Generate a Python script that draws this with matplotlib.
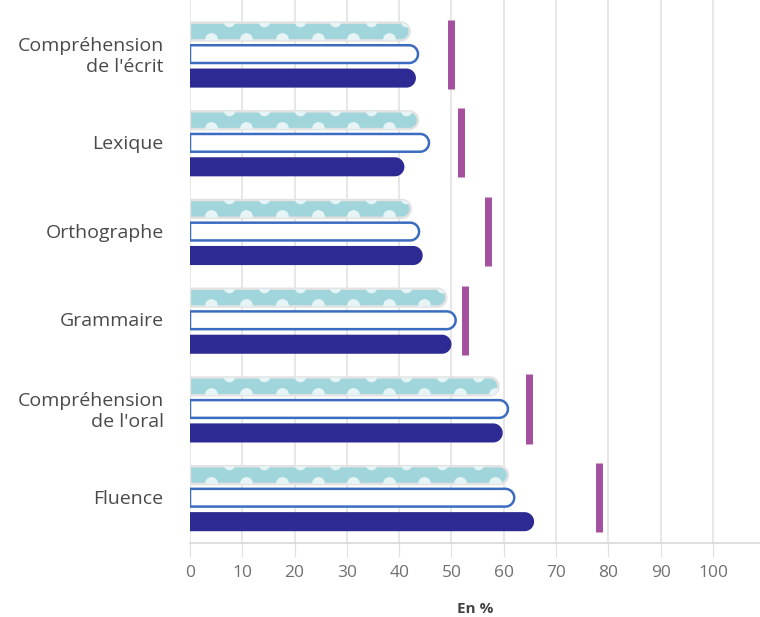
import matplotlib.pyplot as plt
import numpy as np
from matplotlib.patches import Polygon

# data (in %)
categories = ["Compréhension\nde l'écrit", "Lexique", "Orthographe", "Grammaire",
              "Compréhension\nde l'oral", "Fluence"]
serie_motif = [42.0, 43.6, 42.2, 49.0, 59.0, 60.8]    # teal, dotted
serie_vide = [43.6, 45.7, 43.8, 50.8, 60.8, 62.0]     # white, blue outline
serie_pleine = [43.2, 41.0, 44.5, 50.0, 59.8, 65.8]   # navy
reference = [50.0, 51.8, 57.0, 52.6, 64.8, 78.2]      # purple markers
xticks = [0, 10, 20, 30, 40, 50, 60, 70, 80, 90, 100]

plt.rcParams['font.family'] = ['Open Sans', 'DejaVu Sans']

fig = plt.figure(figsize=(7.6, 6.17), dpi=100)
ax = fig.add_axes([0.25, 0.12, 0.75, 0.88])
ax.set_xlim(0, 109)
ax.set_ylim(5.52, -0.6)

# pixel scale of the axes, used to draw round ends that look circular
bbox = ax.get_position()
px_x = bbox.width * 760 / 109
px_y = bbox.height * 617 / 6.12


def rounded_bar(y, v, h, **kw):
    r_x = (h * px_y / 2) / px_x
    t = np.linspace(-np.pi / 2, np.pi / 2, 40)
    arc_x = (v - r_x) + r_x * np.cos(t)
    arc_y = y + (h / 2) * np.sin(t)
    pts = [(0, y - h / 2)] + list(zip(arc_x, arc_y)) + [(0, y + h / 2)]
    p = Polygon(pts, closed=True, **kw)
    ax.add_patch(p)
    return p


y = np.arange(len(categories))
h = 0.2
step = 6.8

for i in range(len(categories)):
    # teal bar with dots
    p = rounded_bar(y[i] - 0.245, serie_motif[i], h, facecolor='#9fd5db',
                    edgecolor='#e2e2e2', linewidth=1.8, zorder=3)
    xs = np.arange(4.0, serie_motif[i], step)
    dots_b = ax.scatter(xs, np.full(len(xs), y[i] - 0.245 + h * 0.42), s=85,
                        color='#e6f4f5', linewidths=0, zorder=4)
    dots_b.set_clip_path(p)
    xs2 = np.arange(4.0 + step / 2, serie_motif[i], step)
    dots_t = ax.scatter(xs2, np.full(len(xs2), y[i] - 0.245 - h * 0.6), s=70,
                        color='#e6f4f5', linewidths=0, zorder=4)
    dots_t.set_clip_path(p)

    # white bar with blue outline
    rounded_bar(y[i] + 0.01, serie_vide[i], h, facecolor='white',
                edgecolor='#3b6cc0', linewidth=1.8, zorder=3)

    # navy bar
    rounded_bar(y[i] + 0.28, serie_pleine[i], 0.215, facecolor='#2d2a93',
                edgecolor='none', zorder=3)

# purple reference markers
ax.vlines(reference, y - 0.38, y + 0.4, color='#a4509e', linewidth=5,
          zorder=5)

ax.set_yticks(y)
ax.set_yticklabels(categories, fontsize=14, color='#4a4a4a',
                   multialignment='right', linespacing=1.2)
ax.tick_params(axis='y', length=0, pad=19)

ax.set_xticks(xticks)
ax.set_xticklabels([str(t) for t in xticks], fontsize=12.5, color='#707070')
ax.tick_params(axis='x', length=10, color='#e0e0e0', pad=6)
ax.grid(axis='x', color='#e3e3e3', linewidth=1.2, zorder=0)
ax.set_axisbelow(True)

for s in ['top', 'right', 'left']:
    ax.spines[s].set_visible(False)
ax.spines['bottom'].set_color('#d8d8d8')
ax.spines['bottom'].set_linewidth(1.2)

ax.set_xlabel("En %", fontsize=11, fontweight='bold', color='#444444',
              labelpad=15)

fig.savefig('out.png', dpi=100)
